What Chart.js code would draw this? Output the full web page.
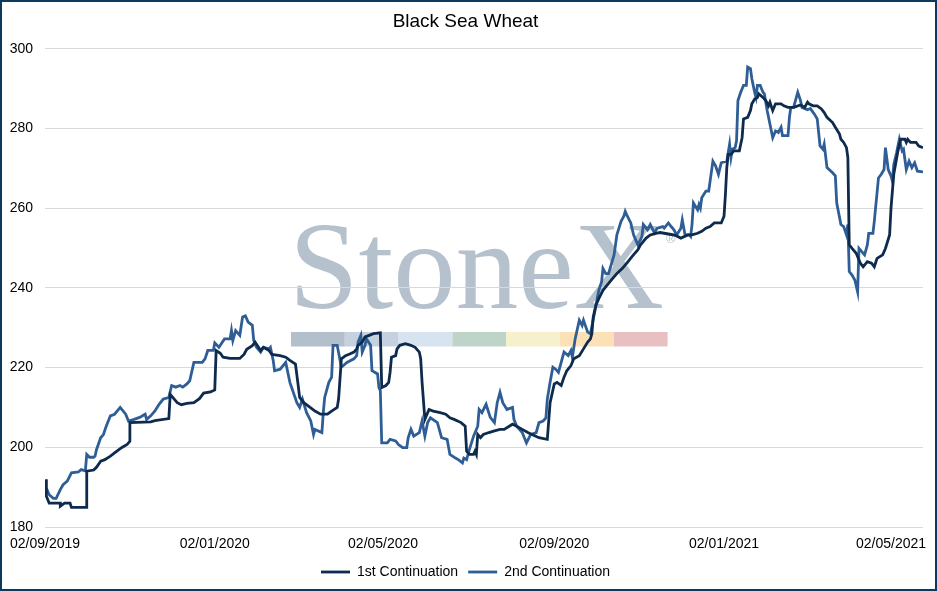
<!DOCTYPE html>
<html>
<head>
<meta charset="utf-8">
<title>Black Sea Wheat</title>
<script src="https://cdn.jsdelivr.net/npm/chart.js@4.4.1/dist/chart.umd.min.js"></script>
<style>
  html, body { margin: 0; padding: 0; background: #fff; }
  #wrap { width: 937px; height: 591px; }
</style>
</head>
<body>
<div id="wrap"><canvas id="grafico"></canvas></div>
<script>
// etiquetas del eje x y su posicion en dias desde 02/09/2019
const tickLabels = ['02/09/2019', '02/01/2020', '02/05/2020', '02/09/2020', '02/01/2021', '02/05/2021'];
const tickDays = [0, 122, 243, 366, 488, 608];
const yTicks = [180, 200, 220, 240, 260, 280, 300];

// 1st Continuation (dias, valor)
const days1 = [1,1,3,11,11,14,18,19,30,30,
  35,37,40,43,47,50,55,59,61,61,
  76,79,89,90,95,98,102,107,111,114,
  119,122,123,126,128,133,140,143,145,149,
  151,155,157,161,163,169,173,176,180,182,
  183,186,191,194,198,203,206,210,211,213,
  216,219,222,224,225,228,230,233,236,241,
  242,245,247,248,249,252,253,255,259,263,
  266,269,270,271,273,276,279,284,288,291,
  294,299,302,303,305,308,309,310,311,313,
  315,319,323,327,330,336,339,343,347,350,
  355,361,363,366,368,371,373,375,378,380,
  384,387,390,392,393,394,396,398,401,404,
  408,411,415,419,422,426,428,432,435,439,
  442,450,453,457,462,465,469,472,475,478,
  481,486,488,489,490,491,493,495,499,501,
  502,505,507,508,510,512,513,516,518,520,
  521,523,525,529,531,534,538,543,546,548,
  549,552,555,558,560,562,566,568,571,572,
  574,576,577,578,580,583,586,588,591,594,
  596,598,602,604,607,608,610,613,615,618,
  619,620,622,626,628,631];
const cont1 = [192.0,187.7,186.0,186.0,185.2,186.0,186.0,184.9,184.9,194.0,
  194.3,195.0,196.5,196.9,197.8,198.6,199.9,200.7,201.5,206.2,
  206.4,206.7,207.2,213.3,211.2,210.7,211.0,211.2,212.2,213.6,
  213.9,214.4,224.3,223.6,222.6,222.3,222.3,223.3,224.6,225.5,
  226.4,224.3,225.1,224.3,223.3,223.0,222.6,221.8,220.9,215.4,
  212.5,211.2,209.9,209.1,208.3,208.3,209.1,210.0,212.1,222.2,
  223.0,223.4,223.9,224.7,225.6,226.4,227.7,228.1,228.5,228.7,
  215.0,215.5,216.3,218.8,222.6,223.0,224.7,225.6,226.0,225.6,
  225.1,223.9,222.2,216.3,207.0,209.5,209.1,208.7,208.3,207.4,
  207.0,206.2,205.3,199.0,198.2,198.2,199.0,198.2,203.2,202.4,
  203.2,203.7,204.1,204.5,204.5,205.8,205.3,204.5,203.7,203.2,
  202.4,202.0,211.2,215.9,216.3,215.5,217.6,219.2,220.5,222.2,
  223.0,224.7,226.4,227.2,228.5,232.7,235.7,237.3,239.4,240.7,
  242.4,243.6,244.9,246.6,247.9,249.5,250.8,252.5,253.3,253.7,
  253.9,253.4,253.2,252.5,253.3,253.3,253.7,254.2,255.0,255.4,
  256.3,256.3,258.0,263.4,270.2,273.5,273.5,274.4,274.4,277.7,
  282.4,282.8,284.5,286.2,287.4,287.8,288.7,287.8,287.0,285.7,
  286.6,284.5,286.2,286.2,285.7,285.3,285.3,285.9,285.3,286.6,
  286.2,285.7,285.7,284.9,284.0,282.8,281.5,280.3,278.6,277.3,
  276.5,275.2,272.7,250.8,249.9,248.7,246.2,245.3,246.6,246.2,
  245.3,247.4,248.3,249.9,253.3,260.0,268.5,274.4,277.3,277.3,
  276.5,277.3,276.5,276.5,275.6,275.2];

// 2nd Continuation (dias, valor)
const days2 = [1,3,6,8,11,13,16,19,24,26,
  29,30,32,35,36,37,40,42,44,47,
  50,53,54,58,60,64,68,72,73,76,
  79,82,85,89,91,94,97,99,102,104,
  107,113,115,117,121,122,125,129,133,134,
  135,137,140,142,144,146,149,150,152,155,
  157,161,162,164,165,169,173,176,181,183,
  185,188,191,193,194,199,200,201,204,206,
  207,210,213,217,222,224,225,227,228,230,
  231,234,235,239,240,241,242,246,248,252,
  254,257,260,261,263,265,269,271,273,275,
  277,282,285,289,291,295,297,300,301,303,
  305,308,311,312,314,317,320,323,325,327,
  329,332,336,337,339,341,343,346,349,353,
  355,358,360,361,363,365,367,369,373,376,
  378,379,381,384,386,387,390,392,396,398,
  400,401,403,405,409,411,414,416,417,418,
  421,423,426,428,429,430,433,435,438,440,
  444,445,448,450,452,454,457,458,460,463,
  464,465,466,469,470,471,472,475,477,478,
  480,482,484,486,490,492,493,494,496,497,
  498,500,502,504,505,507,508,510,511,512,
  514,516,517,519,520,523,525,527,529,530,
  534,535,536,538,541,543,544,548,550,553,
  555,557,559,560,562,566,568,569,572,574,
  576,577,578,580,582,584,585,587,589,591,
  592,595,596,599,601,603,604,606,608,609,
  610,612,614,616,617,619,621,623,625,627,
  631];
const cont2 = [189.8,188.1,187.2,187.2,189.4,190.6,191.5,193.6,193.8,194.4,
  194.1,198.2,197.5,197.5,197.8,199.4,202.4,203.2,205.3,207.9,
  208.3,209.6,210.0,208.3,206.6,207.0,207.5,208.3,207.0,207.9,
  209.1,210.8,212.1,212.5,215.5,215.1,215.5,215.1,215.9,216.7,
  221.3,221.3,222.2,224.3,224.3,226.2,225.1,227.2,227.2,229.3,
  226.8,229.3,228.1,232.7,233.0,231.4,230.6,226.8,225.1,223.9,
  225.1,224.7,225.1,221.8,219.2,219.6,221.3,216.3,211.2,210.0,
  212.1,208.7,206.6,203.2,204.5,203.7,208.7,212.5,216.3,217.6,
  225.6,225.6,220.1,221.3,222.2,223.0,226.4,228.1,223.9,225.6,
  227.2,225.6,219.2,218.4,215.0,214.2,201.1,201.1,202.0,201.6,
  200.7,199.9,199.9,202.4,204.5,202.8,203.7,206.6,202.8,206.2,
  207.4,206.2,202.4,202.0,198.2,197.3,196.9,196.1,197.3,196.9,
  199.4,202.8,205.3,209.5,208.7,210.8,207.5,206.2,211.2,213.8,
  211.2,209.5,210.0,207.0,205.3,204.5,203.7,201.1,203.2,203.7,
  206.2,206.6,207.4,212.1,216.3,220.1,219.6,218.8,223.9,223.0,
  224.3,222.6,227.2,231.9,230.6,231.9,228.9,228.5,235.7,239.4,
  241.5,244.9,243.6,243.6,248.3,253.3,256.7,258.0,259.2,258.4,
  256.3,253.3,250.8,252.1,252.9,255.9,254.6,255.9,253.8,255.0,
  255.4,255.0,256.3,255.4,254.6,253.3,255.0,257.1,253.3,253.3,
  252.9,255.9,261.3,259.6,260.9,260.0,262.6,264.3,264.3,266.8,
  271.8,270.6,268.5,271.4,271.8,276.1,272.7,274.8,275.2,276.9,
  287.0,289.1,290.8,290.8,295.4,295.0,292.5,289.1,287.8,290.8,
  290.8,289.1,288.7,284.5,282.8,277.7,279.4,279.0,280.3,278.2,
  278.2,282.8,285.3,285.3,289.1,287.0,285.3,284.7,285.0,283.6,
  282.4,275.6,274.8,276.1,270.2,268.9,268.1,261.3,255.9,255.4,
  253.3,255.9,244.1,243.2,242.0,239.0,249.9,249.1,248.3,250.8,
  253.7,253.7,256.7,267.6,268.5,269.7,275.2,269.7,268.1,266.8,
  271.0,273.9,277.3,274.4,274.8,269.7,271.8,270.2,271.4,269.3,
  269.1];

const fuente = 'Liberation Sans, Arial, sans-serif';

// el logo de fondo (marca de agua)
const marcaAgua = {
  id: 'marcaAgua',
  beforeDraw(chart) {
    const ctx = chart.ctx;
    ctx.save();
    ctx.fillStyle = '#b5c1cc';
    ctx.font = '125px "Liberation Serif", "Times New Roman", serif';
    ctx.textBaseline = 'alphabetic';
    ctx.fillText('StoneX', 289, 308);
    ctx.font = '13px ' + fuente;
    ctx.fillText('®', 666, 243);
    const colores = ['#b3bfca', '#c5d1df', '#d7e4f0', '#bfd4c8', '#f6f1cc', '#fbe1b5', '#e9c0c1'];
    colores.forEach((c, i) => {
      ctx.fillStyle = c;
      ctx.fillRect(291 + i * 53.8, 332, 53.8, 14.5);
    });
    ctx.restore();
  }
};

// marco oscuro alrededor de todo
const marco = {
  id: 'marco',
  afterDraw(chart) {
    const ctx = chart.ctx;
    ctx.save();
    ctx.strokeStyle = '#0c3a5e';
    ctx.lineWidth = 2;
    ctx.strokeRect(1, 1, chart.width - 2, chart.height - 2);
    ctx.restore();
  }
};

new Chart(document.getElementById('grafico'), {
  type: 'line',
  data: {
    datasets: [
      {
        label: '1st Continuation',
        data: days1.map((d, i) => ({ x: d, y: cont1[i] })),
        borderColor: '#0e2b4d',
        backgroundColor: '#0e2b4d',
        borderWidth: 2.8,
        pointRadius: 0,
        tension: 0
      },
      {
        label: '2nd Continuation',
        data: days2.map((d, i) => ({ x: d, y: cont2[i] })),
        borderColor: '#2f5e96',
        backgroundColor: '#2f5e96',
        borderWidth: 2.8,
        pointRadius: 0,
        tension: 0
      }
    ]
  },
  options: {
    responsive: true,
    maintainAspectRatio: false,
    animation: false,
    layout: { padding: { left: 8, right: 14, top: 0, bottom: 2 } },
    plugins: {
      title: {
        display: true,
        text: 'Black Sea Wheat',
        color: '#000',
        font: { family: fuente, size: 19, weight: 'normal' },
        padding: { top: 10, bottom: 16 }
      },
      legend: {
        position: 'bottom',
        labels: {
          color: '#000',
          font: { family: fuente, size: 14 },
          usePointStyle: true,
          pointStyle: 'line',
          pointStyleWidth: 29,
          padding: 10
        }
      },
      tooltip: { enabled: false }
    },
    scales: {
      x: {
        type: 'linear',
        min: 0,
        max: 631,
        afterBuildTicks: (scale) => {
          scale.ticks = tickDays.map(v => ({ value: v }));
        },
        afterFit: (scale) => { scale.height = 28; },
        ticks: {
          autoSkip: false,
          maxRotation: 0,
          padding: 9,
          color: '#000',
          font: { family: fuente, size: 14 },
          callback: (v) => tickLabels[tickDays.indexOf(v)]
        },
        grid: { display: false, drawTicks: false },
        border: { display: false }
      },
      y: {
        min: 180,
        max: 300,
        afterBuildTicks: (scale) => {
          scale.ticks = yTicks.map(v => ({ value: v }));
        },
        afterFit: (scale) => { scale.width = 37; },
        ticks: {
          padding: 12,
          color: '#000',
          font: { family: fuente, size: 14 }
        },
        grid: { color: '#d9d9d9', lineWidth: 1, drawTicks: false },
        border: { display: false }
      }
    }
  },
  plugins: [marcaAgua, marco]
});
</script>
</body>
</html>
